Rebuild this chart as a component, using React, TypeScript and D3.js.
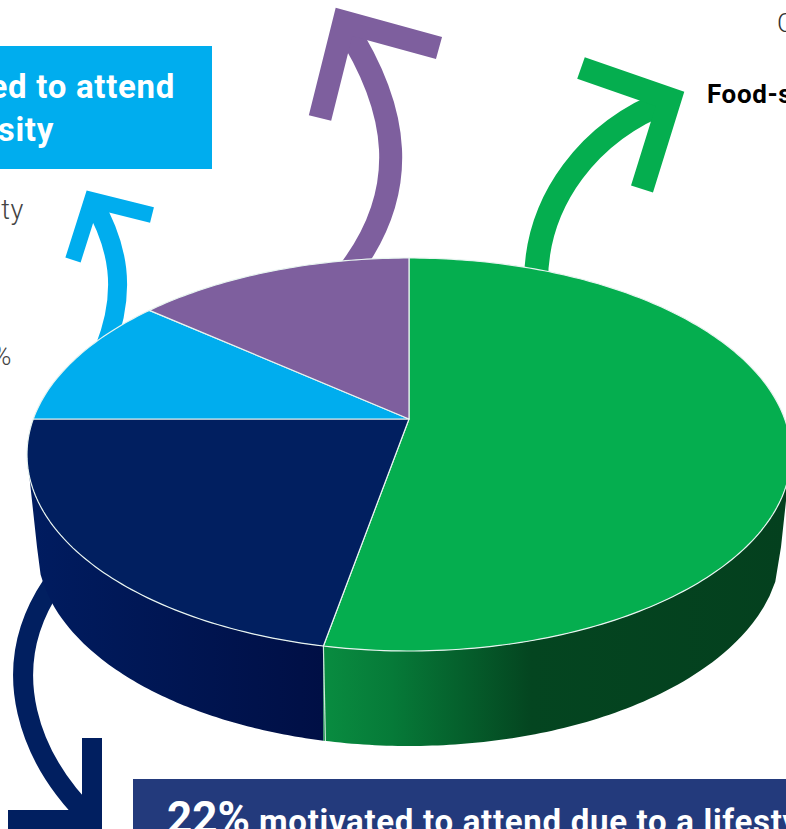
import React from "react";
import * as d3 from "d3";

// Share of attendees by primary motivation, clockwise from twelve o'clock.
const categories = ["Food-specific", "Lifestyle", "Curiosity", "Social"];
const shares = [53, 22, 11, 14];
const topColors = ["#05ae4f", "#011f60", "#00adee", "#7e5f9e"];

const WIDTH = 786;
const HEIGHT = 829;

// Ellipse of the upper face, and the point the slices converge on.
const CX = 409;
const CY = 454.5;
const RX = 382;
const RY = 196.5;
const APEX_Y = 419;
// Lower rim of the drum.
const BOTTOM_CY = 547;
const BOTTOM_RX = 372;
const BOTTOM_RY = 199;

// Perspective map of a unit circle onto the face ellipse, keeping the circle's centre at the apex.
const shift = (APEX_Y - CY) / RY;
const project = (angle: number): [number, number] => {
  const u = Math.sin(angle);
  const v = -Math.cos(angle);
  const d = 1 + shift * v;
  return [
    CX + (RX * u * Math.sqrt(1 - shift * shift)) / d,
    CY + (RY * (v + shift)) / d,
  ];
};

const line = d3.line<[number, number]>();

const pie = d3.pie<number>().sort(null).startAngle(0).endAngle(2 * Math.PI);
const slices = pie(shares);

const slicePath = (start: number, end: number) => {
  const n = Math.max(2, Math.ceil((end - start) * 60));
  const rim = d3.range(n + 1).map((i) => project(start + ((end - start) * i) / n));
  return line([[CX, APEX_Y], ...rim])! + "Z";
};

// Wall between the two rims, for the x range [x0, x1] of the front of the drum.
const ellipseY = (x: number, cy: number, rx: number, ry: number) =>
  cy + ry * Math.sqrt(Math.max(0, 1 - ((x - CX) / rx) ** 2));

const wallPath = (x0: number, x1: number) => {
  const xsTop = d3.range(81).map((i) => x0 + ((x1 - x0) * i) / 80);
  const top = xsTop.map((x): [number, number] => [x, ellipseY(x, CY, RX, RY)]);
  const lx0 = Math.max(x0, CX - BOTTOM_RX);
  const lx1 = Math.min(x1, CX + BOTTOM_RX);
  const xsBottom = d3.range(81).map((i) => lx1 + ((lx0 - lx1) * i) / 80);
  const bottom = xsBottom.map((x): [number, number] => [x, ellipseY(x, BOTTOM_CY, BOTTOM_RX, BOTTOM_RY)]);
  return line([...top, ...bottom])! + "Z";
};

// Boundary between the first two slices carries the seam on the wall.
const seam = project(slices[0].endAngle);
const seamBottom: [number, number] = [seam[0] + 2, ellipseY(seam[0] + 2, BOTTOM_CY, BOTTOM_RX, BOTTOM_RY)];

type Arrow = {
  color: string;
  width: number;
  headWidth: number;
  shaft: [number, number][]; // start, two cubic handles, end
  head: [number, number][];
};

const arrows: Arrow[] = [
  {
    color: "#00adee",
    width: 19,
    headWidth: 16,
    shaft: [[104, 350], [128, 290], [118, 245], [92, 200]],
    head: [[152, 215], [92, 200], [73, 260]],
  },
  {
    color: "#7e5f9e",
    width: 23,
    headWidth: 23,
    shaft: [[350, 270], [410, 190], [400, 110], [344, 24]],
    head: [[439, 48], [344, 22], [320, 118]],
  },
  {
    color: "#05ae4f",
    width: 24,
    headWidth: 23,
    shaft: [[536, 285], [535, 200], [590, 130], [670, 100]],
    head: [[581, 68], [670, 99], [642, 189]],
  },
  {
    color: "#011f60",
    width: 20,
    headWidth: 20,
    shaft: [[52, 585], [-5, 670], [30, 760], [92, 820]],
    head: [[92, 738], [92, 820], [8, 820]],
  },
];

const shaftPath = ([a, b, c, e]: [number, number][]) => {
  const p = d3.path();
  p.moveTo(a[0], a[1]);
  p.bezierCurveTo(b[0], b[1], c[0], c[1], e[0], e[1]);
  return p.toString();
};

const UI_FONT = "Roboto, sans-serif";

export default function App() {
  return (
    <svg
      width={WIDTH}
      height={HEIGHT}
      viewBox={`0 0 ${WIDTH} ${HEIGHT}`}
      style={{ position: "absolute", left: 0, top: 0, display: "block", background: "#fff" }}
    >
      <defs>
        <linearGradient id="wallGreen" gradientUnits="userSpaceOnUse" x1={323} x2={786} y1={0} y2={0}>
          <stop offset="0" stopColor="#098c40" />
          <stop offset="0.15" stopColor="#067a38" />
          <stop offset="0.45" stopColor="#044520" />
          <stop offset="1" stopColor="#04401e" />
        </linearGradient>
        <linearGradient id="wallNavy" gradientUnits="userSpaceOnUse" x1={27} x2={323} y1={0} y2={0}>
          <stop offset="0" stopColor="#001c60" />
          <stop offset="1" stopColor="#000f45" />
        </linearGradient>
      </defs>

      {/* Callout boxes */}
      <rect x={-10} y={46} width={222} height={123} fill="#00adee" />
      <rect x={133} y={779} width={670} height={60} fill="#233a7c" />

      {/* Arrows rising out of the slices */}
      {arrows.map((a, i) => (
        <g key={i} fill="none" stroke={a.color}>
          <path d={shaftPath(a.shaft)} strokeWidth={a.width} />
          <path d={line(a.head)!} strokeWidth={a.headWidth} strokeLinejoin="miter" strokeMiterlimit={6} />
        </g>
      ))}

      {/* Drum wall */}
      <path d={wallPath(CX - RX, seam[0])} fill="url(#wallNavy)" />
      <path d={wallPath(seam[0], CX + RX)} fill="url(#wallGreen)" />
      <path d={line([seam, seamBottom])!} stroke="#cfe8dc" strokeWidth={1.2} fill="none" />

      {/* Upper face */}
      {slices.map((s, i) => (
        <path
          key={categories[i]}
          d={slicePath(s.startAngle, s.endAngle)}
          fill={topColors[i]}
          stroke="#e8f4f0"
          strokeWidth={1.2}
          strokeLinejoin="round"
        />
      ))}

      {/* Labels */}
      <g fontFamily={UI_FONT} fontWeight={700} fill="#fff" fontSize={33} textAnchor="end" letterSpacing={0.7}>
        <text x={175} y={98}>motivated to attend</text>
        <text x={54} y={141}>curiosity</text>
      </g>
      <g fontFamily={UI_FONT} fontWeight={300} fill="#444" fontSize={27} textAnchor="end" letterSpacing={0.6}>
        <text x={24} y={219}>Curiosity</text>
        <text x={12} y={365}>11%</text>
      </g>
      <text x={777} y={32} fontFamily={UI_FONT} fontWeight={300} fontSize={26} fill="#333">C</text>
      <text x={707} y={103} fontFamily={UI_FONT} fontWeight={700} fontSize={26} fill="#000" letterSpacing={0.6}>Food-specific</text>
      <text x={167} y={833} fontFamily={UI_FONT} fontWeight={700} fill="#fff">
        <tspan fontSize={44}>22%</tspan>
        <tspan dx={9} fontSize={33} letterSpacing={0.7}>motivated to attend due to a lifestyle</tspan>
      </text>
    </svg>
  );
}
